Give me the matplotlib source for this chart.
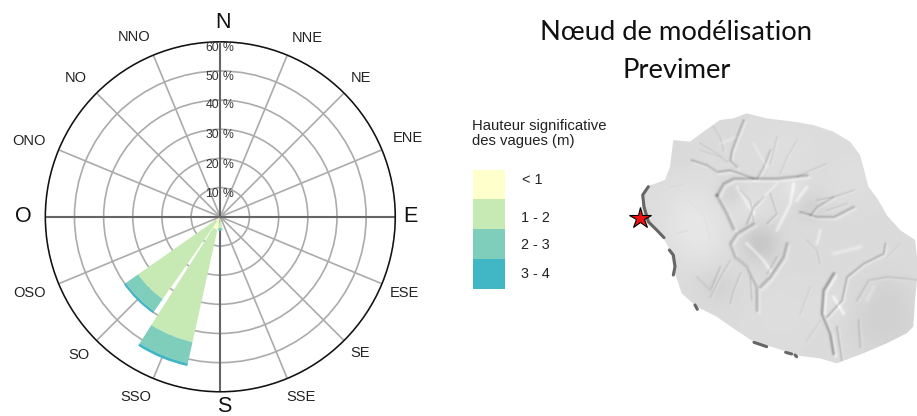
import numpy as np
import matplotlib
matplotlib.use('Agg')
import matplotlib.pyplot as plt
from matplotlib.patches import Polygon, Rectangle

W, H = 917, 416

# wave rose, percent per direction and height class
classes = ['< 1', '1 - 2', '2 - 3', '3 - 4']
class_colors = ['#ffffcc', '#c7e9b4', '#7fcdbb', '#41b6c4']
directions = [180.0, 202.5, 225.0]
pct_lt1 = [0.4, 4.5, 2.0]
pct_1_2 = [3.6, 39.5, 32.4]
pct_2_3 = [0.7, 7.4, 5.1]
pct_3_4 = [0.0, 1.0, 0.8]

ring_values = [10, 20, 30, 40, 50, 60]
ring_label_y = [194, 165, 135, 105, 77, 48]

compass = ['N', 'NNE', 'NE', 'ENE', 'E', 'ESE', 'SE', 'SSE',
           'S', 'SSO', 'SO', 'OSO', 'O', 'ONO', 'NO', 'NNO']
compass_x = [223, 307, 361, 408, 410, 404, 360, 301, 224, 136, 79, 29, 23, 29, 76, 134]
compass_y = [22, 38, 78, 138, 217, 293, 353, 397, 407, 397, 355, 293, 217, 141, 78, 37]

# island, in 3x crop coordinates of the map corner
outline_x = [380, 440, 520, 580, 640, 690, 720, 735, 745, 775, 800, 840, 885, 891, 891, 885, 880, 860,
             800, 730, 650, 600, 540, 470, 400, 340, 290, 230, 185, 165, 150, 125, 85, 65, 70, 85,
             135, 150, 160, 210, 250, 300, 340]
outline_y = [40, 55, 65, 75, 95, 125, 165, 220, 260, 300, 345, 390, 420, 470, 540, 600, 680, 700,
             730, 760, 790, 775, 768, 745, 725, 685, 650, 620, 580, 520, 450, 405, 375, 345, 280, 258,
             240, 200, 120, 125, 95, 60, 55]

# broad shading: x, y, spread, change in grey level
blobs = [
    (210, 340, 70, 8), (240, 420, 60, 7), (180, 170, 30, -2),
    (420, 430, 40, -20), (330, 280, 25, -8), (570, 320, 30, -10),
    (290, 560, 40, -8), (790, 660, 80, -10), (800, 570, 40, -3),
    (640, 620, 40, 5), (700, 230, 50, 3), (500, 150, 60, 3),
    (480, 640, 60, 2), (400, 320, 35, 5), (520, 270, 25, 8),
]
# relief strokes: x list, y list, darkness, width
ridges = [
    ([370, 350, 335, 330, 350], [60, 110, 150, 180, 200], 38, 3),
    ([215, 260, 290, 330, 400], [180, 195, 215, 210, 235], 40, 3),
    ([290, 310, 340, 400, 470, 560], [285, 250, 235, 235, 235, 225], 42, 3.5),
    ([450, 430, 410], [150, 200, 235], 28, 2.5),
    ([290, 320, 340], [285, 340, 385], 50, 4),
    ([400, 350, 330, 345, 380, 410, 410], [370, 400, 430, 470, 500, 560, 630], 38, 3.5),
    ([500, 490, 450, 420], [430, 470, 530, 560], 38, 3.5),
    ([540, 590, 640, 700], [335, 350, 350, 320], 38, 3),
    ([640, 590, 570], [290, 320, 345], 28, 2.5),
    ([795, 790, 730, 680, 665, 620], [430, 460, 490, 530, 600, 650], 36, 2.5),
    ([640, 610, 605, 630, 640], [520, 570, 640, 700, 760], 62, 3.5),
    ([650, 665], [680, 780], 30, 2.5),
    ([710, 745, 800, 860, 890], [600, 540, 530, 535, 540], 18, 2.5),
    ([715, 720], [660, 740], 22, 2.5),
    ([300, 270, 230], [500, 570, 530], 20, 2.5),
    # small gullies
    ([280, 300, 310], [80, 110, 150], 20, 2),
    ([240, 290, 320], [130, 160, 185], 20, 2),
    ([430, 400, 380], [290, 320, 370], 28, 2.5),
    ([470, 450], [110, 190], 15, 2),
    ([530, 500, 480], [120, 170, 220], 12, 2),
    ([620, 570, 530], [190, 210, 230], 15, 2),
    ([700, 640, 590], [270, 290, 300], 20, 2),
    ([680, 620], [310, 330], 15, 2),
    ([240, 300], [150, 170], 14, 2),
    ([150, 185], [260, 255], 9, 1.5),
    ([170, 205], [400, 390], 12, 1.5),
    ([200, 250, 270], [300, 340, 410], 5, 2),
    ([330, 300, 270], [480, 530, 590], 18, 2),
    ([360, 340, 330], [520, 570, 610], 18, 2),
    ([390, 395], [530, 600], 22, 2),
    ([440, 470], [520, 470], 20, 2.5),
    ([560, 590, 600], [420, 450, 490], 18, 2),
    ([570, 540], [560, 640], 10, 2),
    ([600, 560], [660, 720], 10, 2),
    ([840, 800], [430, 470], 8, 2),
    ([360, 390, 400], [270, 300, 360], 24, 2),
    ([450, 470, 440], [280, 340, 370], 24, 2),
]
highlights = [
    ([520, 510, 470], [250, 310, 390], 20, 3.5),
    ([380, 430, 450], [430, 480, 510], 24, 3.5),
    ([640, 720], [460, 440], 14, 4),
    ([640, 670], [590, 640], 22, 3.5),
    ([600, 590], [390, 430], 18, 3),
    ([350, 400], [260, 340], 16, 3.5),
    ([420, 470], [300, 250], 14, 3),
    ([300, 350], [130, 110], 10, 3),
    ([400, 440], [130, 200], 10, 3),
    ([760, 740], [560, 600], 10, 5),
    ([560, 530], [260, 300], 18, 3.5),
]
coast_strokes = [
    ([85, 68, 72, 85, 110, 132], [260, 285, 320, 365, 390, 413]),
    ([148, 160, 165, 160], [450, 465, 500, 525]),
    ([225, 232], [615, 628]),
    ([402, 440], [727, 740]),
    ([497, 515], [757, 762]),
    ([525, 530], [765, 770]),
]
star_x, star_y = 60, 355


def px_x(v):
    return 620 + np.array(v) / 3


def px_y(v):
    return 100 + np.array(v) / 3


def stroke_field(gx, gy, xs, ys, width):
    # gaussian falloff around a polyline
    best = np.full(gx.shape, 1e12)
    for i in range(len(xs) - 1):
        ax_, ay_, bx, by = xs[i], ys[i], xs[i + 1], ys[i + 1]
        dx, dy = bx - ax_, by - ay_
        t = np.clip(((gx - ax_) * dx + (gy - ay_) * dy) / (dx * dx + dy * dy), 0, 1)
        d2 = (gx - ax_ - t * dx) ** 2 + (gy - ay_ - t * dy) ** 2
        best = np.minimum(best, d2)
    return np.exp(-best / (2 * width ** 2))


def relief_image():
    gy, gx = np.mgrid[0:810:2, 0:900:2].astype(float)
    img = np.full(gx.shape, 219.0)
    for x, y, s, v in blobs:
        img += v * np.exp(-((gx - x) ** 2 + (gy - y) ** 2) / (2 * s ** 2))
    for xs, ys, dark, w in ridges:
        img -= dark * stroke_field(gx, gy, xs, ys, w)
        # lit side of each gully
        img += 0.35 * dark * stroke_field(gx, gy, [v + 2 * w for v in xs], [v + 2 * w for v in ys], w)
    for xs, ys, light, w in highlights:
        img += light * stroke_field(gx, gy, xs, ys, w)
    return np.clip(img, 120, 250)


fig = plt.figure(figsize=(W / 100, H / 100), dpi=100)

# rose
cx, cy, R = 220.3, 216.8, 175.0
ax = fig.add_axes([(cx - R) / W, (H - cy - R) / H, 2 * R / W, 2 * R / H], projection='polar')
ax.set_theta_zero_location('N')
ax.set_theta_direction(-1)
ax.set_ylim(0, 60)
ax.set_axisbelow(True)
theta = np.radians(directions)
width = np.radians(20)
bottom = np.zeros(3)
for vals, col in zip([pct_lt1, pct_1_2, pct_2_3, pct_3_4], class_colors):
    ax.bar(theta, vals, width=width, bottom=bottom, color=col, linewidth=0, zorder=3)
    bottom = bottom + np.array(vals)
ax.set_rgrids(ring_values, labels=[])
ax.set_thetagrids(np.arange(0, 360, 22.5), labels=[])
ax.grid(True, color='#ababab', linewidth=1.2)
for a in [0, 90, 180, 270]:
    ax.plot([np.radians(a)] * 2, [0, 60], color='#666666', linewidth=1.5, zorder=4 if a == 0 else 2)
ax.spines['polar'].set_color('#111111')
ax.spines['polar'].set_linewidth(1.1)
ax.tick_params(length=0)

# everything else is placed in image pixels
ov = fig.add_axes([0, 0, 1, 1], facecolor='none')
ov.set_xlim(0, W)
ov.set_ylim(H, 0)
ov.axis('off')

arial = 'Liberation Sans'
for name, x, y in zip(compass, compass_x, compass_y):
    big = len(name) == 1
    ov.text(x, y, name, ha='center', va='center', family=arial, fontsize=15.5 if big else 10.5,
            color='#111111' if big else '#222222', clip_on=False)
for v, y in zip(ring_values, ring_label_y):
    ov.text(219, y, str(v), ha='right', va='center', family=arial, fontsize=8.8, color='#333333')
    ov.text(222.5, y, '%', ha='left', va='center', family=arial, fontsize=8.8, color='#333333')

# titles
ov.text(676.5, 33, 'Nœud de modélisation', ha='center', va='center', family='Lato', fontsize=19.7, color='#111111')
ov.text(676.5, 71, 'Previmer', ha='center', va='center', family='Lato', fontsize=19.7, color='#111111')

# legend
ov.text(472, 126, 'Hauteur significative', ha='left', va='center', family=arial, fontsize=10.7, color='#222222')
ov.text(472, 141, 'des vagues (m)', ha='left', va='center', family=arial, fontsize=10.7, color='#222222')
leg_top = [169.5, 199, 229, 259]
leg_text_x = [522, 521, 521, 521]
leg_text_y = [180, 218, 245, 274]
for name, col, top, tx, ty in zip(classes, class_colors, leg_top, leg_text_x, leg_text_y):
    ov.add_patch(Rectangle((473, top), 32, 30, facecolor=col, edgecolor='none'))
    ov.text(tx, ty, name, ha='left', va='center', family=arial, fontsize=10.4, color='#222222')

# map
island = Polygon(np.column_stack([px_x(outline_x), px_y(outline_y)]), closed=True,
                 facecolor='none', edgecolor='none', transform=ov.transData)
ov.add_patch(island)
im = ov.imshow(relief_image(), cmap='gray', vmin=0, vmax=255, interpolation='bilinear',
               extent=[620, 920, 370, 100], aspect='auto')
im.set_clip_path(island)
ov.set_xlim(0, W)
ov.set_ylim(H, 0)
for xs, ys in coast_strokes:
    ov.plot(px_x(xs), px_y(ys), color='#666666', linewidth=2.2, solid_capstyle='round')
ov.plot(px_x([star_x]), px_y([star_y]), marker='*', markersize=16, markerfacecolor='#ee1111',
        markeredgecolor='black', markeredgewidth=0.8, linestyle='none')

fig.savefig('out.png', dpi=100)
